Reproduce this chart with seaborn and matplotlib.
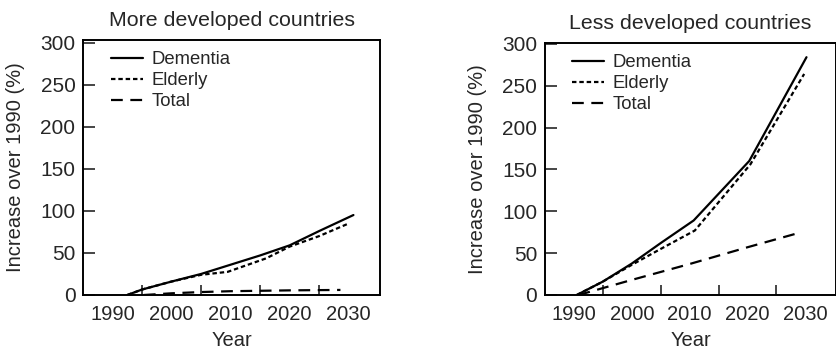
import numpy as np
import pandas as pd
import matplotlib
matplotlib.use("Agg")
import matplotlib.pyplot as plt
import seaborn as sb

# ---- data ----
# more developed countries
more_dem_years = [1992.5, 1995, 2000, 2005, 2010, 2015, 2020, 2025, 2030.8]
more_dem_vals = [0, 6.5, 16, 25, 36, 47, 59, 76, 95]
more_eld_years = [1992.5, 1995, 2000, 2005, 2009.5, 2016, 2020, 2025, 2030]
more_eld_vals = [0, 6.5, 16, 24, 27.5, 43.5, 57.5, 70, 85]
more_tot_years = [1995.3, 2000, 2005, 2010, 2020, 2028.6]
more_tot_vals = [0, 2, 3.5, 4.5, 5.5, 6]

# less developed countries
less_dem_years = [1990.5, 1995, 2000, 2005, 2010.7, 2020.3, 2030.2]
less_dem_vals = [0, 16, 37.5, 62, 89, 160, 284]
less_eld_years = [1990.5, 1995, 2000, 2005, 2010.9, 2020.5, 2029.8]
less_eld_vals = [0, 16, 36, 55, 77, 156, 264]
less_tot_years = [1990.8, 2000, 2010, 2020, 2028.8]
less_tot_vals = [0, 18, 37, 57, 74]

series_names = ["Dementia", "Elderly", "Total"]
year_labels = [1990, 2000, 2010, 2020, 2030]
inner_xticks = [1995, 2005, 2015, 2025]
y_ticks = [0, 50, 100, 150, 200, 250, 300]


def make_df(dem_y, dem_v, eld_y, eld_v, tot_y, tot_v):
    parts = []
    for name, yrs, vals in zip(series_names, [dem_y, eld_y, tot_y], [dem_v, eld_v, tot_v]):
        parts.append(pd.DataFrame({"year": yrs, "value": vals, "series": name}))
    return pd.concat(parts, ignore_index=True)


df_more = make_df(more_dem_years, more_dem_vals, more_eld_years, more_eld_vals,
                  more_tot_years, more_tot_vals)
df_less = make_df(less_dem_years, less_dem_vals, less_eld_years, less_eld_vals,
                  less_tot_years, less_tot_vals)

sb.set_style("ticks")
plt.rcParams["font.family"] = ["Liberation Sans", "DejaVu Sans"]

fig = plt.figure(figsize=(8.37, 3.54), dpi=100)
ax1 = fig.add_axes([0.0992, 0.1667, 0.3548, 0.7203])
ax2 = fig.add_axes([0.6511, 0.1667, 0.3477, 0.7119])

dashes = {"Dementia": "", "Elderly": (2.0, 1.3), "Total": (5.3, 3.4)}


def draw(ax, df, title, ytop):
    sb.lineplot(data=df, x="year", y="value", style="series", style_order=series_names,
                dashes=dashes, color="black", linewidth=1.6, sort=False,
                estimator=None, ax=ax)
    ax.set_xlim(1985, 2035.3)
    ax.set_ylim(0, ytop)
    ax.set_xticks(year_labels)
    ax.set_xticks(inner_xticks, minor=True)
    ax.set_yticks(y_ticks)
    ax.tick_params(axis="x", which="major", length=0, pad=7, labelsize=14.5)
    ax.tick_params(axis="x", which="minor", direction="in", length=7.2, width=1.2)
    ax.tick_params(axis="y", direction="in", length=8.4, width=1.2, pad=5.5, labelsize=15)
    for sp in ax.spines.values():
        sp.set_visible(True)
        sp.set_linewidth(1.4)
        sp.set_color("black")
    ax.set_xlabel("Year", fontsize=14.5, labelpad=5)
    ax.set_ylabel("Increase over 1990 (%)", fontsize=14.5, labelpad=11)
    ax.set_title(title, fontsize=15.4, pad=10)
    h, l = ax.get_legend_handles_labels()
    ax.legend(h, l, loc="upper left", bbox_to_anchor=(0.068, 0.985), frameon=False,
              fontsize=13.3, handlelength=1.75, handletextpad=0.45, labelspacing=0.22,
              borderaxespad=0.)


draw(ax1, df_more, "More developed countries", 303)
draw(ax2, df_less, "Less developed countries", 301)

fig.savefig("out.png", dpi=100)
plt.close(fig)
